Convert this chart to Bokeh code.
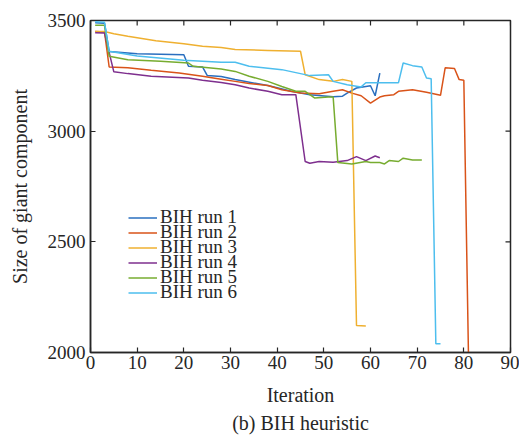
import math
from bokeh.plotting import figure
from bokeh.models import Range1d, Legend, LegendItem, Title, FixedTicker
from bokeh.embed import file_html
from bokeh.resources import INLINE

# ---------------- data ----------------
run1_x = [1, 3, 4, 10, 20, 21, 24, 25, 28, 31, 38, 43, 47, 52, 54, 55, 57, 60, 61, 62]
run1_y = [3490, 3488, 3360, 3350, 3345, 3293, 3290, 3252, 3247, 3233, 3206, 3180, 3165,
          3155, 3158, 3172, 3195, 3205, 3160, 3262]

run2_x = [1, 3, 4, 8, 13, 19, 24, 28, 31, 34, 38, 41, 45, 49, 52, 54, 56, 58, 60, 62, 63,
          65, 66, 69, 72, 75, 76, 78, 79, 80, 81]
run2_y = [3450, 3448, 3290, 3286, 3275, 3263, 3248, 3235, 3225, 3215, 3206, 3187, 3172,
          3169, 3180, 3187, 3172, 3160, 3127, 3154, 3160, 3165, 3180, 3187, 3176, 3162,
          3286, 3283, 3233, 3230, 1980]

run3_x = [1, 3, 5, 8, 14, 20, 24, 28, 31, 38, 45, 46, 49, 52, 54, 56, 57, 59]
run3_y = [3450, 3450, 3440, 3429, 3409, 3395, 3384, 3378, 3369, 3365, 3361, 3255, 3233,
          3225, 3233, 3225, 2122, 2120]

run4_x = [1, 3, 5, 8, 13, 21, 24, 28, 31, 34, 38, 41, 44, 46, 47, 49, 52, 55, 57, 59, 61, 62]
run4_y = [3445, 3443, 3268, 3260, 3248, 3240, 3230, 3220, 3210, 3195, 3180, 3165, 3165,
          2863, 2855, 2863, 2860, 2867, 2885, 2867, 2888, 2880]

run5_x = [1, 3, 4, 8, 15, 21, 22, 28, 31, 34, 38, 41, 44, 46, 48, 51, 52, 53, 56, 59, 60,
          62, 63, 64, 66, 67, 69, 71]
run5_y = [3479, 3478, 3338, 3323, 3316, 3308, 3293, 3281, 3270, 3248, 3225, 3202, 3180,
          3180, 3150, 3154, 3154, 2858, 2852, 2863, 2858, 2858, 2852, 2867, 2863, 2878,
          2870, 2870]

run6_x = [1, 3, 4, 10, 20, 28, 31, 34, 41, 47, 51, 52, 55, 58, 59, 66, 67, 69, 71, 72, 73,
          74, 75]
run6_y = [3494, 3492, 3361, 3340, 3320, 3311, 3311, 3293, 3278, 3251, 3255, 3225, 3210,
          3200, 3219, 3219, 3308, 3296, 3290, 3240, 3237, 2040, 2040]

labels = ["BIH run 1", "BIH run 2", "BIH run 3", "BIH run 4", "BIH run 5", "BIH run 6"]
x_ticks = [0, 10, 20, 30, 40, 50, 60, 70, 80, 90]
y_ticks = [2000, 2500, 3000, 3500]
x_lim = (0, 90)
y_lim = (2000, 3500)

# ---------------- styling ----------------
colors = ["#2a6fbf", "#d95319", "#efb030", "#7e2f8e", "#77ac30", "#4dbeee"]
FONT = "Liberation Serif"
INK = "#262626"

p = figure(width=519, height=437, output_backend="svg", toolbar_location=None,
           x_range=Range1d(*x_lim), y_range=Range1d(*y_lim),
           min_border_left=90, min_border_right=9, min_border_top=20,
           min_border_bottom=85)
p.background_fill_color = "white"
p.border_fill_color = "white"
p.grid.visible = False
p.outline_line_color = INK
p.outline_line_width = 1.5

for ax in (p.xaxis[0], p.yaxis[0]):
    ax.major_tick_in = 5
    ax.major_tick_out = 0
    ax.minor_tick_line_color = None
    ax.axis_line_color = INK
    ax.axis_line_width = 1.5
    ax.major_tick_line_color = INK
    ax.major_tick_line_width = 1.2
    ax.major_label_text_font = FONT
    ax.major_label_text_color = INK
    ax.major_label_text_font_size = "19px"
    ax.axis_label_text_font = FONT
    ax.axis_label_text_font_style = "normal"
    ax.axis_label_text_color = INK
    ax.axis_label_text_font_size = "20px"

p.xaxis.ticker = FixedTicker(ticks=x_ticks)
p.yaxis.ticker = FixedTicker(ticks=y_ticks)
p.xaxis.axis_label = "Iteration"
p.yaxis.axis_label = "Size of giant component"
p.xaxis.major_label_standoff = 3
p.yaxis.major_label_standoff = 5
p.xaxis.axis_label_standoff = 12
p.yaxis.axis_label_standoff = 14

# inward ticks on the top and right edges of the box (half of each dash is clipped by the frame)
p.scatter(x_ticks, [y_lim[1]] * len(x_ticks), marker="dash", angle=math.pi / 2,
          size=10, line_color=INK, line_width=1.2)
p.scatter([x_lim[1]] * len(y_ticks), y_ticks, marker="dash",
          size=10, line_color=INK, line_width=1.2)

xs = [run1_x, run2_x, run3_x, run4_x, run5_x, run6_x]
ys = [run1_y, run2_y, run3_y, run4_y, run5_y, run6_y]
renderers = []
for x, y, c in zip(xs, ys, colors):
    renderers.append(p.line(x, y, line_color=c, line_width=1.5))

for i, (lab, r) in enumerate(zip(labels, renderers)):
    leg = Legend(items=[LegendItem(label=lab, renderers=[r])],
                 location=(38, 124 - 15 * i), padding=0, margin=0,
                 border_line_alpha=0, background_fill_alpha=0,
                 glyph_width=29, glyph_height=15, label_height=15,
                 label_standoff=3, spacing=0,
                 label_text_font=FONT, label_text_font_size="19px",
                 label_text_color=INK)
    p.add_layout(leg)

cap = Title(text="(b) BIH heuristic", align="center", text_font=FONT,
            text_font_size="20px", text_font_style="normal", text_color=INK,
            standoff=3)
p.add_layout(cap, "below")

open("out.html", "w").write(file_html(p, INLINE))
